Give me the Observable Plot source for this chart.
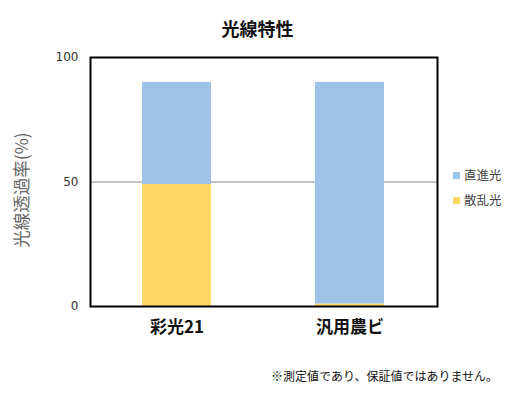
<!DOCTYPE html>
<html><head><meta charset="utf-8">
<script src="https://cdn.jsdelivr.net/npm/d3@7"></script>
<script src="https://cdn.jsdelivr.net/npm/@observablehq/plot@0.6"></script>
<style>
body{margin:0;background:#fff;font-family:"Noto Sans CJK JP",sans-serif;}
#wrap{position:relative;width:525px;height:399px;overflow:hidden;}
.abs{position:absolute;white-space:nowrap;}
</style></head>
<body><div id="wrap"></div>
<script>
const categories = ["彩光21", "汎用農ビ"];
const seriesNames = ["直進光", "散乱光"];
const straight = [41, 89];
const scattered = [49, 1];
const yTicks = [0, 50, 100];
const title = "光線特性";
const yLabel = "光線透過率(%)";
const caption = "※測定値であり、保証値ではありません。";
const colors = ["#9DC3E6", "#FFD966"];

const rows = [];
categories.forEach((c, i) => rows.push({cat: c, series: "散乱光", value: scattered[i]}));
categories.forEach((c, i) => rows.push({cat: c, series: "直進光", value: straight[i]}));

const chart = Plot.plot({
  width: 525, height: 399,
  marginLeft: 90, marginRight: 88, marginTop: 57, marginBottom: 93,
  style: {fontFamily: '"Noto Sans CJK JP", sans-serif', background: "#fff"},
  x: {domain: categories, paddingInner: 0.6, paddingOuter: 0.3, label: null},
  y: {domain: [0, 100], ticks: yTicks, label: null},
  color: {domain: seriesNames, range: colors},
  marks: [
    Plot.ruleY([50], {stroke: "#868686", strokeWidth: 1}),
    Plot.barY(rows, {x: "cat", y: "value", fill: "series"}),
    Plot.frame({stroke: "#000", strokeWidth: 2}),
    Plot.axisY({ticks: yTicks, tickSize: 0, tickPadding: 12, fontSize: 12, fill: "#333", fontFamily: "DejaVu Sans, sans-serif", label: null}),
    Plot.axisX({tickSize: 0, tickPadding: 14, fontSize: 17, fontWeight: "bold", fill: "#111", label: null})
  ]
});
const wrap = document.getElementById("wrap");
wrap.appendChild(chart);

function addText(txt, css) {
  const d = document.createElement("div");
  d.className = "abs";
  d.textContent = txt;
  Object.assign(d.style, css);
  wrap.appendChild(d);
  return d;
}
addText(title, {left: "0", width: "515px", textAlign: "center", top: "17px", fontSize: "18px", fontWeight: "bold", color: "#111", lineHeight: "22px"});
addText(yLabel, {left: "21px", top: "190px", fontSize: "17.5px", color: "#666", lineHeight: "20px", transform: "translate(-50%,-50%) rotate(-90deg)"});
addText(caption, {left: "271px", top: "368px", fontSize: "12px", color: "#111", lineHeight: "16px"});

seriesNames.forEach((s, i) => {
  const y = 175 + i * 25;
  const sw = document.createElement("div");
  sw.className = "abs";
  Object.assign(sw.style, {left: "453px", top: (y - 3.5) + "px", width: "7px", height: "7px", background: colors[i]});
  wrap.appendChild(sw);
  addText(s, {left: "464px", top: (y - 9) + "px", fontSize: "12.5px", color: "#404040", lineHeight: "18px"});
});
</script></body></html>
